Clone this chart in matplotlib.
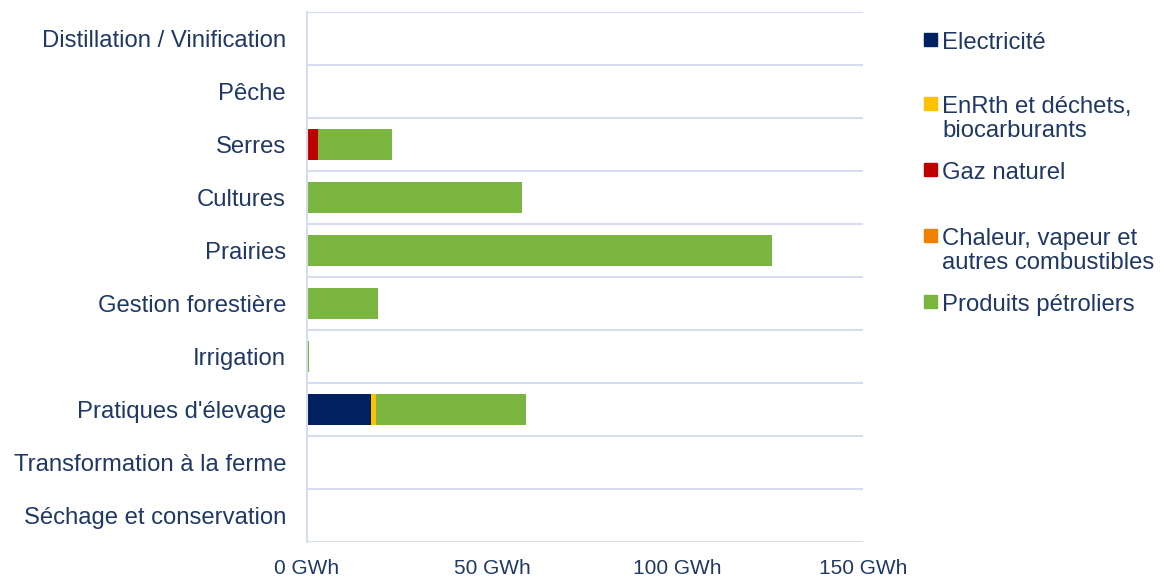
import numpy as np
import matplotlib.pyplot as plt
from matplotlib.patches import Rectangle

plt.rcParams['font.family'] = ['Liberation Sans', 'DejaVu Sans']

# Categories (top to bottom)
categories = ["Distillation / Vinification", "Pêche", "Serres", "Cultures", "Prairies",
              "Gestion forestière", "Irrigation", "Pratiques d'élevage",
              "Transformation à la ferme", "Séchage et conservation"]

# Values in GWh
electricite = [0, 0, 0, 0, 0, 0, 0, 17.3, 0.4, 0]
enrth = [0, 0, 0.3, 0, 0, 0, 0, 1.3, 0, 0]
gaz = [0, 0, 2.7, 0, 0, 0, 0, 0, 0, 0]
chaleur = [0, 0, 0, 0, 0, 0, 0, 0, 0, 0]
petroliers = [0, 0, 19.9, 58.0, 125.4, 19.2, 0.5, 40.5, 0, 0.4]

series_names = ["Electricité", "EnRth et déchets,\nbiocarburants", "Gaz naturel",
                "Chaleur, vapeur et\nautres combustibles", "Produits pétroliers"]
series_values = [electricite, enrth, gaz, chaleur, petroliers]
colors = ["#002060", "#FFC000", "#C00000", "#F08000", "#7AB53F"]

x_ticks = [0, 50, 100, 150]
x_tick_labels = ["0 GWh", "50 GWh", "100 GWh", "150 GWh"]

text_color = "#1F3864"
grid_color = "#D7DDF0"

fig = plt.figure(figsize=(11.64, 5.79), dpi=100)
ax = fig.add_axes([0.2637, 0.0639, 0.4777, 0.9154])

y = np.arange(len(categories))
left = np.zeros(len(categories))
for vals, col, name in zip(series_values, colors, series_names):
    vals = np.array(vals)
    ax.barh(y, vals, left=left, height=0.58, color=col, edgecolor='none', label=name)
    left += vals

ax.set_ylim(len(categories) - 0.5, -0.5)
ax.set_xlim(0, 150)

# Horizontal gridlines at category boundaries
for b in np.arange(-0.5, len(categories), 1.0):
    ax.axhline(b, color=grid_color, linewidth=1.5, zorder=0)

ax.set_yticks(y)
ax.set_yticklabels(categories, fontsize=17.2, color=text_color)
ax.set_xticks(x_ticks)
ax.set_xticklabels(x_tick_labels, fontsize=15, color=text_color)
ax.tick_params(axis='both', length=0)
ax.tick_params(axis='y', pad=15)
ax.tick_params(axis='x', pad=12)

for side in ['top', 'right', 'bottom']:
    ax.spines[side].set_visible(False)
ax.spines['left'].set_color(grid_color)
ax.spines['left'].set_linewidth(1.5)

# Legend drawn manually to match the slot layout
W, H = 1164, 579
slot_y = [41, 105, 171, 237, 303]
for sy, col, name in zip(slot_y, colors, series_names):
    fig.patches.append(Rectangle((924 / W, 1 - (sy + 5) / H), 13 / W, 13 / H,
                                 transform=fig.transFigure, color=col))
    fig.text(942 / W, 1 - (sy - 9) / H, name, fontsize=17.2, color=text_color,
             va='top', ha='left', linespacing=1.12)

fig.savefig("out.png", dpi=100)
